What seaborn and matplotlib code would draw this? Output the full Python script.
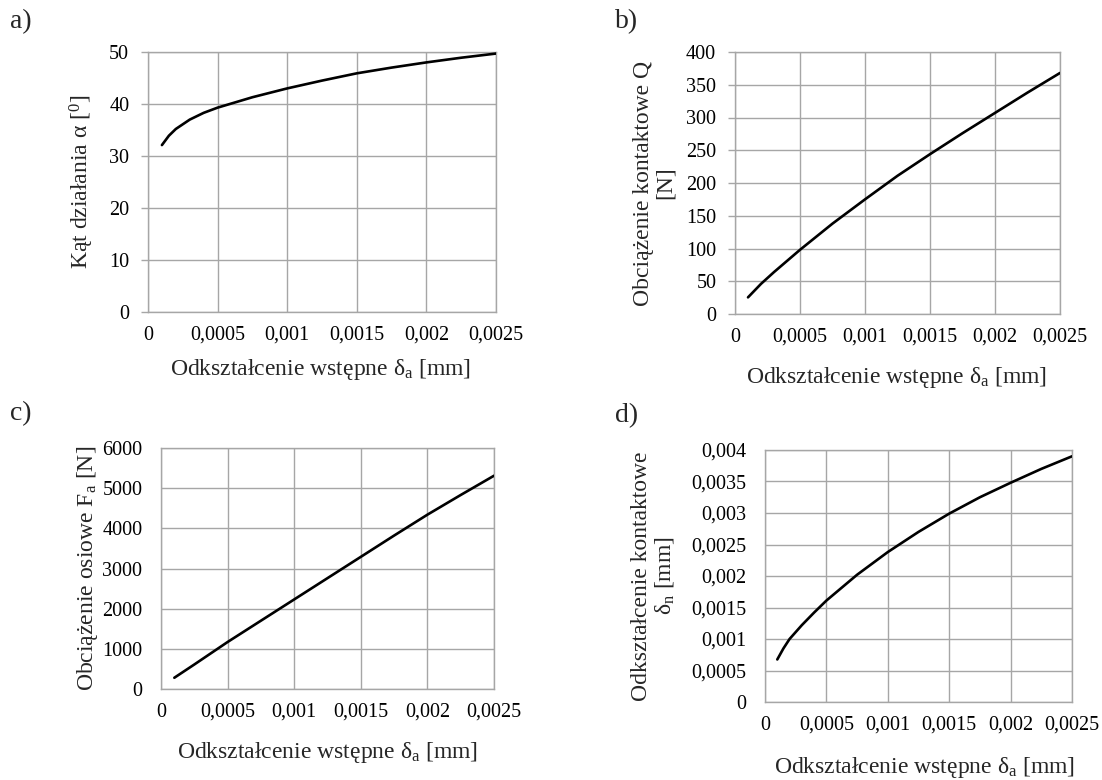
import matplotlib
matplotlib.use("Agg")
import matplotlib.pyplot as plt
import seaborn as sns
import pandas as pd

# ---- data ----
x_a = [0.0001, 0.00015, 0.0002, 0.0003, 0.0004, 0.0005, 0.00075, 0.001, 0.00125, 0.0015, 0.00175, 0.002, 0.00225, 0.0025]
alpha = [32.1, 33.9, 35.2, 37.0, 38.3, 39.3, 41.3, 43.0, 44.5, 45.9, 47.0, 48.0, 48.9, 49.7]

x_b = [0.0001, 0.0002, 0.0003, 0.0004, 0.0005, 0.00075, 0.001, 0.00125, 0.0015, 0.00175, 0.002, 0.00225, 0.0025]
Q = [25.4, 46.0, 64.0, 81.0, 98.0, 138.0, 175.0, 211.0, 244.0, 276.0, 307.0, 338.0, 368.0]

x_c = [0.0001, 0.00025, 0.0005, 0.00075, 0.001, 0.00125, 0.0015, 0.00175, 0.002, 0.00225, 0.0025]
Fa = [280, 610, 1170, 1700, 2230, 2760, 3290, 3820, 4340, 4830, 5310]

x_d = [0.0001, 0.00015, 0.0002, 0.0003, 0.0004, 0.0005, 0.00075, 0.001, 0.00125, 0.0015, 0.00175, 0.002, 0.00225, 0.0025]
delta_n = [0.000675, 0.00085, 0.001, 0.00122, 0.00142, 0.00161, 0.00202, 0.00238, 0.0027, 0.00299, 0.00325, 0.00348, 0.0037, 0.0039]

x_ticks = [0, 0.0005, 0.001, 0.0015, 0.002, 0.0025]
x_ticklabels = ["0", "0,0005", "0,001", "0,0015", "0,002", "0,0025"]

a_ticks = [0, 10, 20, 30, 40, 50]
a_ticklabels = ["0", "10", "20", "30", "40", "50"]
b_ticks = [0, 50, 100, 150, 200, 250, 300, 350, 400]
b_ticklabels = ["0", "50", "100", "150", "200", "250", "300", "350", "400"]
c_ticks = [0, 1000, 2000, 3000, 4000, 5000, 6000]
c_ticklabels = ["0", "1000", "2000", "3000", "4000", "5000", "6000"]
d_ticks = [0, 0.0005, 0.001, 0.0015, 0.002, 0.0025, 0.003, 0.0035, 0.004]
d_ticklabels = ["0", "0,0005", "0,001", "0,0015", "0,002", "0,0025", "0,003", "0,0035", "0,004"]

xlabel = "Odkształcenie wstępne δ$_\\mathregular{a}$ [mm]"
ylabels = [
    "Kąt działania α [$^\\mathregular{0}$]",
    "Obciążenie kontaktowe Q\n[N]",
    "Obciążenie osiowe F$_\\mathregular{a}$ [N]",
    "Odkształcenie kontaktowe\nδ$_\\mathregular{n}$ [mm]",
]
letters = ["a)", "b)", "c)", "d)"]

# ---- style ----
sns.set_theme(style="whitegrid")
plt.rcParams["font.family"] = ["Liberation Serif", "DejaVu Serif"]
plt.rcParams["mathtext.fontset"] = "custom"
plt.rcParams["mathtext.rm"] = "Liberation Serif"
plt.rcParams["mathtext.it"] = "Liberation Serif:italic"
plt.rcParams["mathtext.bf"] = "Liberation Serif:bold"

GRID = "#a6a6a6"
TICK_FS = 14.5
LABEL_FS = 17

W, H = 1102, 780
fig = plt.figure(figsize=(W / 100, H / 100), dpi=100)

# axes boxes in pixels: (left, top, right, bottom)
boxes = [
    (148, 52, 496, 312),
    (735, 52, 1060, 314),
    (161, 448, 494, 689),
    (765, 450, 1072, 702),
]
series = [(x_a, alpha), (x_b, Q), (x_c, Fa), (x_d, delta_n)]
yticks = [(a_ticks, a_ticklabels), (b_ticks, b_ticklabels), (c_ticks, c_ticklabels), (d_ticks, d_ticklabels)]
ylims = [(0, 50), (0, 400), (0, 6000), (0, 0.004)]
ytick_len = [5, 5, 0, 0]
ylabel_x = [-0.149, -0.181, -0.183, -0.289]
xlabel_pos = [(0.495, -0.173), (0.498, -0.195), (0.5, -0.212), (0.52, -0.21)]
letter_pos = [(10 / W, 1 - 28 / H), (615 / W, 1 - 28 / H),
              (10 / W, 1 - 420 / H), (615 / W, 1 - 422 / H)]

for i in range(4):
    l, t, r, b = boxes[i]
    ax = fig.add_axes([l / W, (H - b) / H, (r - l) / W, (b - t) / H])
    xs, ys = series[i]
    df = pd.DataFrame({"x": xs, "y": ys})
    sns.lineplot(data=df, x="x", y="y", ax=ax, color="black", linewidth=1.9, zorder=5)
    ax.set_xlim(0, 0.0025)
    ax.set_ylim(*ylims[i])
    ax.set_xticks(x_ticks)
    ax.set_xticklabels(x_ticklabels, fontsize=TICK_FS)
    ax.set_yticks(yticks[i][0])
    ax.set_yticklabels(yticks[i][1], fontsize=TICK_FS)
    ax.grid(True, color=GRID, linewidth=1.0)
    ax.set_facecolor("white")
    for s in ax.spines.values():
        s.set_visible(True)
        s.set_color(GRID)
        s.set_linewidth(1.0)
    ax.tick_params(axis="x", length=0, pad=10, colors="black")
    ax.tick_params(axis="y", length=ytick_len[i], width=1.0, color=GRID,
                   pad=13.5 - ytick_len[i], left=True, labelcolor="black")
    ax.set_xlabel(xlabel, fontsize=LABEL_FS, va="top")
    ax.xaxis.set_label_coords(*xlabel_pos[i])
    ax.set_ylabel(ylabels[i], fontsize=LABEL_FS, linespacing=1.1)
    ax.yaxis.set_label_coords(ylabel_x[i], 0.5)
    fig.text(letter_pos[i][0], letter_pos[i][1], letters[i], fontsize=20, va="baseline", ha="left")

fig.savefig("out.png", dpi=100, facecolor="white")
